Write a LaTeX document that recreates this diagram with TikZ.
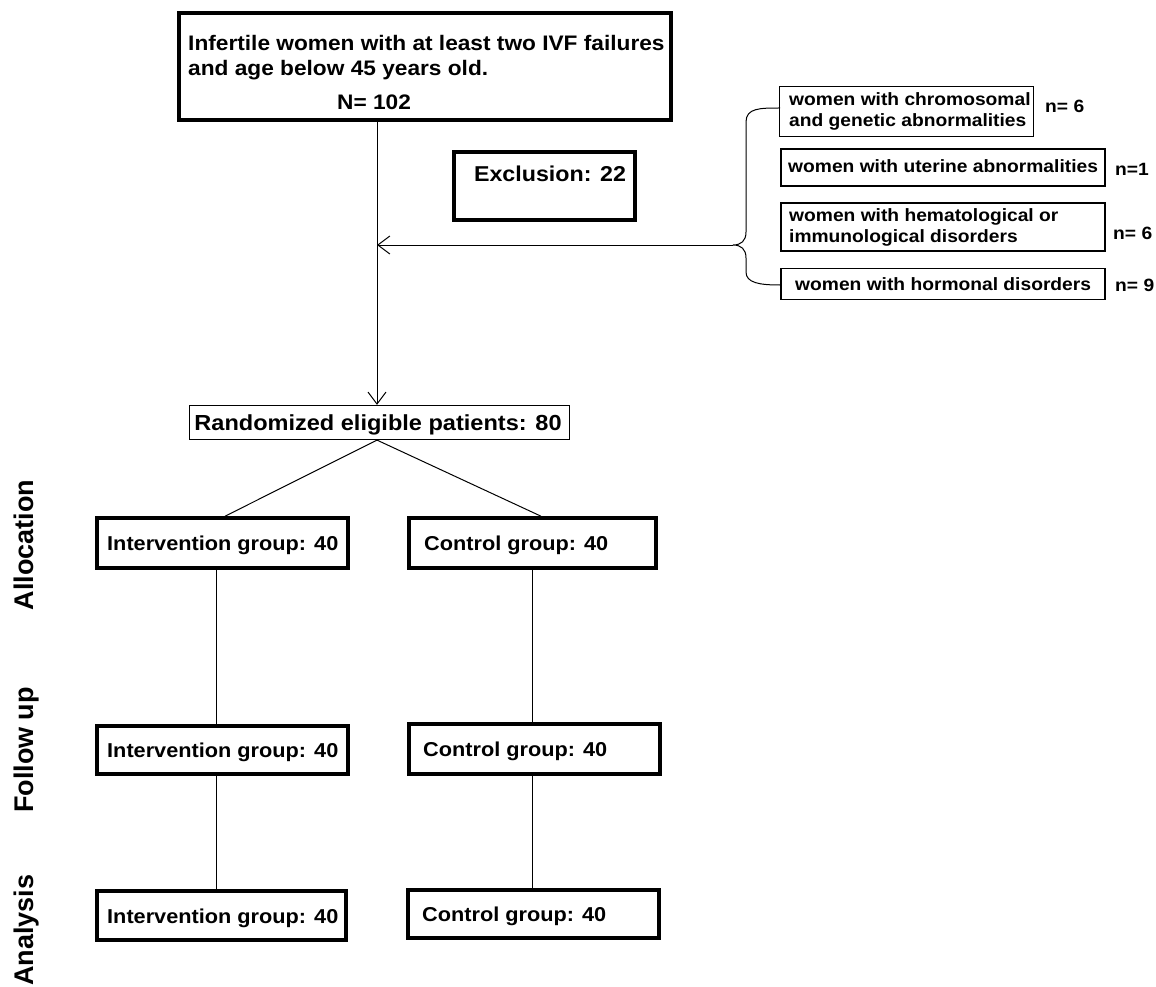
\documentclass[tikz,border=0pt]{standalone}
\usepackage{fontspec}
\setmainfont{Liberation Sans}[FakeStretch=1.08]
\newfontfamily\sidefont{Liberation Sans}
\usetikzlibrary{arrows.meta}
\tikzset{
  thickbox/.style={draw, line width=3.6pt, rectangle, inner sep=0pt},
  thinbox/.style={draw, line width=1.2pt, rectangle, inner sep=0pt},
  txt/.style={inner sep=0pt, anchor=base west, font=\bfseries\fontsize{#1}{#1}\selectfont},
  txt/.default=20.1,
  conn/.style={line width=1pt},
  arr/.style={line width=1pt, -{Straight Barb[length=12pt,width=18pt,line width=1pt]}},
  side/.style={inner sep=0pt, anchor=base, rotate=90, font=\sidefont\bfseries\fontsize{27}{27}\selectfont}
}
\begin{document}
\begin{tikzpicture}[x=1pt,y=-1pt]
\useasboundingbox[fill=white] (0,0) rectangle (1156,987);
% x positions of vertical connectors
\coordinate (vmain) at (377,0);
\coordinate (vint) at (216,0);
\coordinate (vctl) at (532,0);
\coordinate (dl) at (225,0);
\coordinate (dr) at (541,0);
% top box
\node[thickbox, minimum width=492pt, minimum height=107pt] (top) at (425,66.5) {};
\node[txt=21] (t1) at (188,51) {Infertile women with at least two IVF failures};
\node[txt=21] (t2) at (188,76) {and age below 45 years old.};
\node[txt=21] (t3) at (337,110) {N= 102};
% exclusion
\node[thickbox, minimum width=181pt, minimum height=68pt] (excl) at (544.5,186) {};
\node[txt=21.5, anchor=base] (exclt) at (550,182) {Exclusion: 22};
% right boxes
\node[thinbox, minimum width=254pt, minimum height=50pt] (chrom) at (906.5,111.5) {};
\node[txt=17.8] (c1) at (789,106) {women with chromosomal};
\node[txt=17.8] (c2) at (789,127) {and genetic abnormalities};
\node[txt=17.8] (cn) at (1045,113) {n= 6};
\node[thinbox, minimum width=324pt, minimum height=37pt] (uter) at (943,167.5) {};
\node[txt=17.8] (u1) at (788,173) {women with uterine abnormalities};
\node[txt=17.8] (un) at (1115,176) {n=1};
\node[thinbox, minimum width=324pt, minimum height=48pt] (hema) at (943,227) {};
\node[txt=17.8] (h1) at (789,222) {women with hematological or};
\node[txt=17.8] (h2) at (789,242) {immunological disorders};
\node[txt=17.8] (hn) at (1113,239) {n= 6};
\node[thinbox, minimum width=324pt, minimum height=31pt] (horm) at (943,284) {};
\node[txt=17.8] (o1) at (795,290) {women with hormonal disorders};
\node[txt=17.8] (on) at (1115,291) {n= 9};
% brace
\draw[conn] (780,108) .. controls (760,108) and (746,108) .. (746,122) -- (746,232)
  .. controls (746,241) and (741,245) .. (733,245) coordinate (tip)
  .. controls (741,245) and (746,249) .. (746,258) -- (746,272)
  .. controls (746,283) and (760,285) .. (780,285);
\coordinate (j) at (377,245);
% randomized
\node[thinbox, minimum width=380pt, minimum height=34pt] (rand) at (379.5,422.5) {};
\node[txt=21.8, anchor=base] (randt) at (378,430) {Randomized eligible patients: 80};
% groups
\node[thickbox, minimum width=251pt, minimum height=50pt] (ai) at (222.5,543) {};
\node[txt] (ait) at (107,550) {Intervention group: 40};
\node[thickbox, minimum width=247pt, minimum height=50pt] (ac) at (532.5,543) {};
\node[txt] (act) at (424,550) {Control group: 40};
\node[thickbox, minimum width=251pt, minimum height=48pt] (fi) at (222.5,750) {};
\node[txt] (fit) at (107,757) {Intervention group: 40};
\node[thickbox, minimum width=251pt, minimum height=50pt] (fc) at (534.5,749) {};
\node[txt] (fct) at (423,756) {Control group: 40};
\node[thickbox, minimum width=249pt, minimum height=49pt] (ni) at (221.5,915.5) {};
\node[txt] (nit) at (107,923) {Intervention group: 40};
\node[thickbox, minimum width=251pt, minimum height=48pt] (nc) at (533.5,914) {};
\node[txt] (nct) at (422,921) {Control group: 40};
% side labels
\node[side] (sa) at (33,545) {Allocation};
\node[side] (sf) at (33,750) {Follow up};
\node[side] (sn) at (33,930) {Analysis};
% connectors
\draw[arr] (top.south -| vmain) -- (rand.north -| vmain);
\draw[arr] (tip) -- (j);
\draw[conn] (rand.south -| vmain) -- (ai.north -| dl);
\draw[conn] (rand.south -| vmain) -- (ac.north -| dr);
\draw[conn] (ai.south -| vint) -- (fi.north -| vint);
\draw[conn] (fi.south -| vint) -- (ni.north -| vint);
\draw[conn] (ac.south -| vctl) -- (fc.north -| vctl);
\draw[conn] (fc.south -| vctl) -- (nc.north -| vctl);
\end{tikzpicture}
\end{document}
